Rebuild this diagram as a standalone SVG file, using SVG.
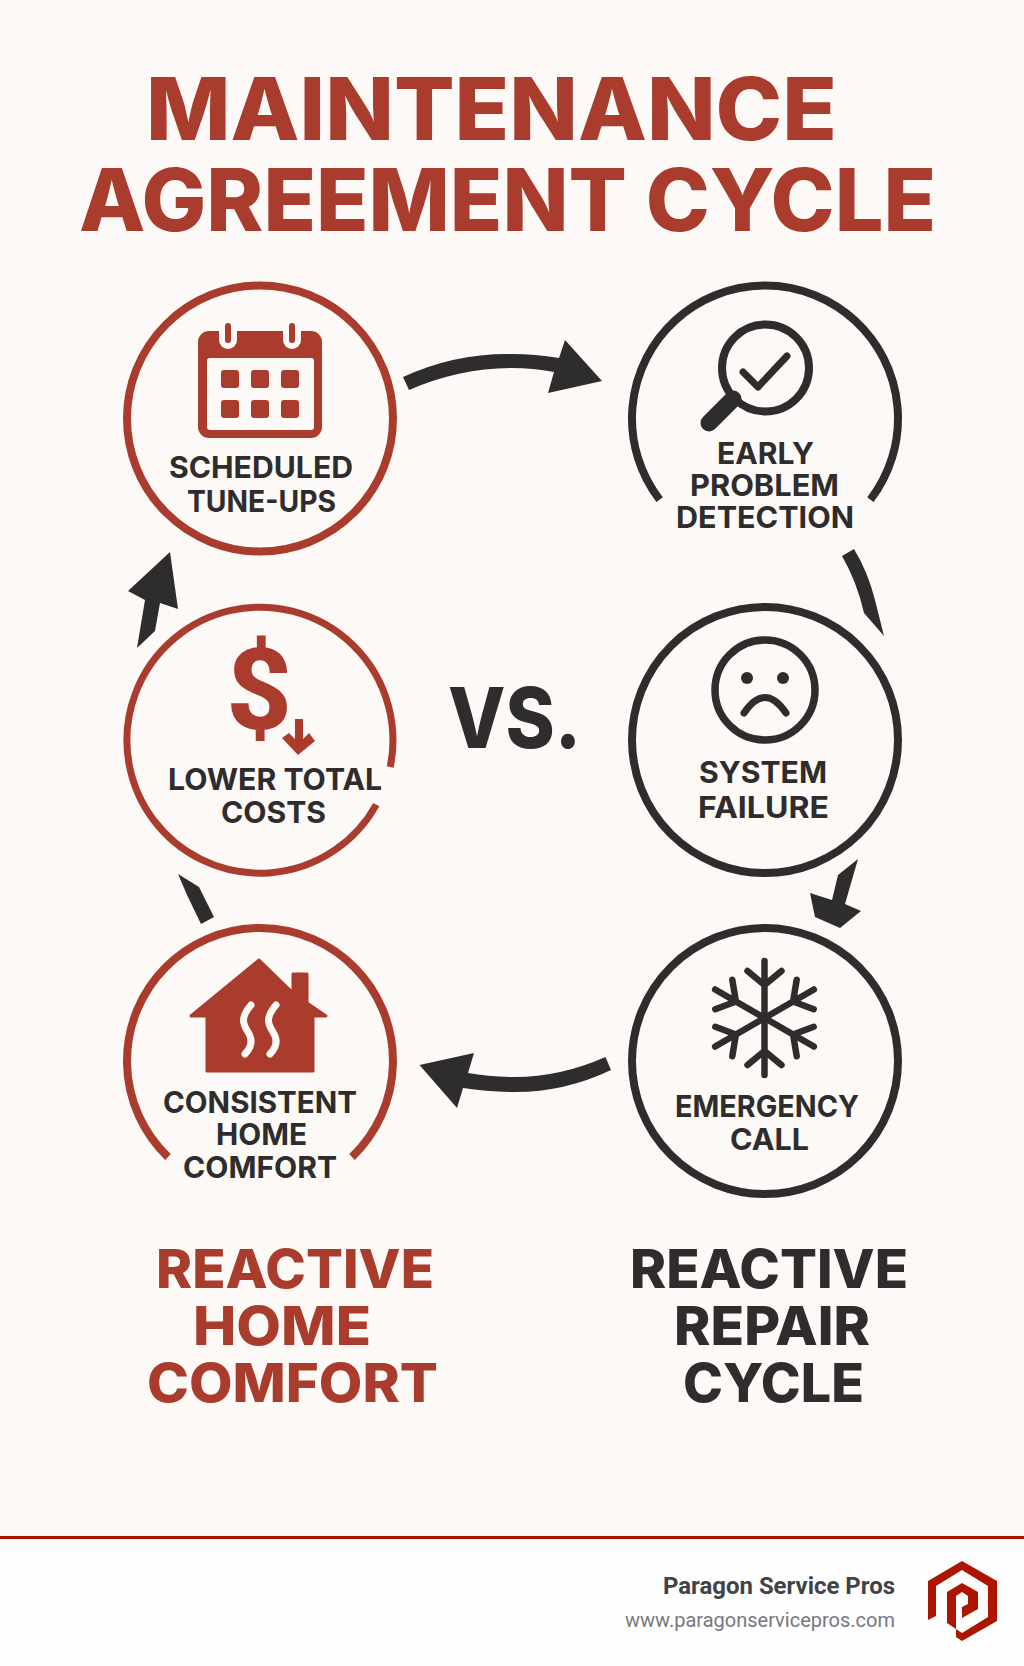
<svg xmlns="http://www.w3.org/2000/svg" width="1024" height="1666" viewBox="0 0 1024 1666">
<style>
text{font-family:"Inter","Liberation Sans",sans-serif;text-anchor:start}
.title{font-size:86px;font-weight:800;fill:#aa3c2e}
.head{font-size:54px;font-weight:800}
.lbl{font-size:30px;font-weight:700;fill:#2f2c2d}
.red{fill:#aa3c2e}.dk{fill:#2f2c2d}
.ringr{fill:none;stroke:#aa3c2e;stroke-width:8}
.ringd{fill:none;stroke:#2f2c2d;stroke-width:8}
.ln{fill:none;stroke:#2f2c2d;stroke-linecap:round;stroke-linejoin:round}
</style>
<rect width="1024" height="1666" fill="#fdf9f6"/>
<rect y="1539" width="1024" height="127" fill="#fefefe"/>
<rect y="1536" width="1024" height="3" fill="#ad1500"/>
<g id="title">
<text class="title" x="146" y="140" textLength="691" lengthAdjust="spacingAndGlyphs">MAINTENANCE</text>
<text class="title" x="79" y="231" textLength="857" lengthAdjust="spacingAndGlyphs">AGREEMENT CYCLE</text>
</g>
<g id="connectors" class="dk">
<path d="M403 377Q455 353 512 354Q535 354 559 358L565 340L602 381L548 393L554 372Q533 368 512 368Q460 368 409 390Z"/>
<path d="M842 556L854 549Q868 572 875 600L884 636L864 613Q857 582 842 556Z"/>
<polygon points="858,859 838,875 832,900 810,893 815,917 840,928 861,911 845,904"/>
<path d="M605.5 1057L611 1070Q565 1092 515 1092Q488 1092 463 1088L457 1108L419.500 1065L474 1053L468 1073Q490 1077 515 1077Q560 1077 605.500 1057Z"/>
<polygon points="178,874 199,887 214,917 201,924 187,895"/>
<polygon points="137,648 155,631 160,603 178,609 170,552 128,591 145,600"/>
</g>
<g id="node-tuneups">
<circle class="ringr" cx="260" cy="418.500" r="133"/>
<rect class="red" x="198" y="331" width="124" height="107" rx="11"/>
<rect x="207" y="358" width="107" height="72" rx="3" fill="#fdf9f6"/>
<rect x="219" y="322" width="18" height="27" rx="9" fill="#fdf9f6"/>
<rect x="283" y="322" width="18" height="27" rx="9" fill="#fdf9f6"/>
<rect class="red" x="225" y="323" width="6" height="20" rx="3"/>
<rect class="red" x="289" y="323" width="6" height="20" rx="3"/>
<g class="red">
<rect x="221" y="370" width="18" height="18" rx="3"/><rect x="251" y="370" width="18" height="18" rx="3"/><rect x="281" y="370" width="18" height="18" rx="3"/>
<rect x="221" y="400" width="18" height="18" rx="3"/><rect x="251" y="400" width="18" height="18" rx="3"/><rect x="281" y="400" width="18" height="18" rx="3"/>
</g>
<text class="lbl" x="169" y="478" textLength="184" lengthAdjust="spacingAndGlyphs">SCHEDULED</text>
<text class="lbl" x="187" y="512" textLength="149" lengthAdjust="spacingAndGlyphs">TUNE-UPS</text>
</g>
<g id="node-detection">
<path class="ringd" d="M659.600 499.600A133 133 0 1 1 870.400 499.600"/>
<circle cx="765.500" cy="368" r="43.500" fill="none" stroke="#2f2c2d" stroke-width="8"/>
<line class="ln" x1="733" y1="399" x2="709" y2="423" stroke-width="17"/>
<polyline class="ln" points="743,372 758,387 787,356" stroke-width="7"/>
<text class="lbl" x="717" y="464" textLength="97" lengthAdjust="spacingAndGlyphs">EARLY</text>
<text class="lbl" x="690" y="496" textLength="149" lengthAdjust="spacingAndGlyphs">PROBLEM</text>
<text class="lbl" x="676" y="528" textLength="178" lengthAdjust="spacingAndGlyphs">DETECTION</text>
</g>
<g id="node-costs">
<path class="ringr" d="M390.200 767A133 133 0 1 0 376.300 804.600" style="stroke-width:7"/>
<text class="red" x="259" y="729" style="font-size:114px;font-weight:800;text-anchor:middle;font-family:Roboto,'Liberation Sans',sans-serif">$</text>
<polygon class="red" points="295,719 303,719 303,739 309,733 315,741 298,755 282,738 289,733 295,739"/>
<text class="lbl" x="168" y="790" textLength="214" lengthAdjust="spacingAndGlyphs">LOWER TOTAL</text>
<text class="lbl" x="221" y="823" textLength="105" lengthAdjust="spacingAndGlyphs">COSTS</text>
</g>
<g id="node-failure">
<circle class="ringd" cx="765" cy="740" r="133"/>
<circle cx="765" cy="690" r="50" fill="none" stroke="#2f2c2d" stroke-width="7.500"/>
<circle class="dk" cx="747" cy="678" r="6"/><circle class="dk" cx="783" cy="678" r="6"/>
<path class="ln" d="M744 713Q765 682 786 713" stroke-width="7"/>
<text class="lbl" x="699" y="783" textLength="128" lengthAdjust="spacingAndGlyphs">SYSTEM</text>
<text class="lbl" x="698" y="818" textLength="131" lengthAdjust="spacingAndGlyphs">FAILURE</text>
</g>
<g id="node-comfort">
<path class="ringr" d="M168 1157A133 133 0 1 1 352 1157"/>
<path class="red" stroke="#aa3c2e" stroke-width="3" stroke-linejoin="round" d="M259 960L293 993V974H307V1003L326 1016H313V1071H207V1016H191Z"/>
<path d="M251 1005C240 1018 243 1024 248 1032C253 1040 252 1047 245 1054M276 1005C265 1018 268 1024 273 1032C278 1040 277 1047 270 1054" fill="none" stroke="#fdf9f6" stroke-width="7" stroke-linecap="round"/>
<text class="lbl" x="163" y="1113" textLength="194" lengthAdjust="spacingAndGlyphs">CONSISTENT</text>
<text class="lbl" x="216" y="1145" textLength="91" lengthAdjust="spacingAndGlyphs">HOME</text>
<text class="lbl" x="183" y="1178" textLength="154" lengthAdjust="spacingAndGlyphs">COMFORT</text>
</g>
<g id="node-emergency">
<circle class="ringd" cx="765" cy="1061" r="133"/>
<defs><path id="arm" d="M0 0V-57M0 -33L-17 -47M0 -33L17 -47"/></defs>
<g class="ln" stroke-width="6.500" transform="translate(764.500 1018)">
<use href="#arm"/><use href="#arm" transform="rotate(60)"/><use href="#arm" transform="rotate(120)"/><use href="#arm" transform="rotate(180)"/><use href="#arm" transform="rotate(240)"/><use href="#arm" transform="rotate(300)"/>
</g>
<text class="lbl" x="675" y="1117" textLength="184" lengthAdjust="spacingAndGlyphs">EMERGENCY</text>
<text class="lbl" x="730" y="1150" textLength="79" lengthAdjust="spacingAndGlyphs">CALL</text>
</g>
<g id="vs"><text class="dk" x="448" y="748" textLength="133" lengthAdjust="spacingAndGlyphs" style="font-size:84px;font-weight:800">VS.</text></g>
<g id="heading-left" class="red">
<text class="head" x="156" y="1288" textLength="278" lengthAdjust="spacingAndGlyphs">REACTIVE</text>
<text class="head" x="193" y="1345" textLength="178" lengthAdjust="spacingAndGlyphs">HOME</text>
<text class="head" x="147" y="1402" textLength="291" lengthAdjust="spacingAndGlyphs">COMFORT</text>
</g>
<g id="heading-right" class="dk">
<text class="head" x="630" y="1288" textLength="278" lengthAdjust="spacingAndGlyphs">REACTIVE</text>
<text class="head" x="674" y="1345" textLength="196" lengthAdjust="spacingAndGlyphs">REPAIR</text>
<text class="head" x="683" y="1402" textLength="181" lengthAdjust="spacingAndGlyphs">CYCLE</text>
</g>
<g id="footer">
<text x="663" y="1594" textLength="232" lengthAdjust="spacingAndGlyphs" style="font-family:Roboto,'Liberation Sans',sans-serif;font-size:24px;font-weight:700" fill="#424347">Paragon Service Pros</text>
<text x="625" y="1627" textLength="270" lengthAdjust="spacingAndGlyphs" style="font-family:Roboto,'Liberation Sans',sans-serif;font-size:20px" fill="#77787e">www.paragonservicepros.com</text>
<g fill="#ad1500">
<polygon points="962,1561 997,1581 997,1621 962,1641 956,1637 956,1629 962,1633 988,1617 988,1586 962,1570 936,1586 936,1616 928,1620 928,1581"/>
<polygon points="962,1583 978,1592 978,1609 962,1618 962,1607 968,1604 968,1596 962,1592 956,1596 956,1629 947,1623 947,1592"/>
</g>
</g>
</svg>
